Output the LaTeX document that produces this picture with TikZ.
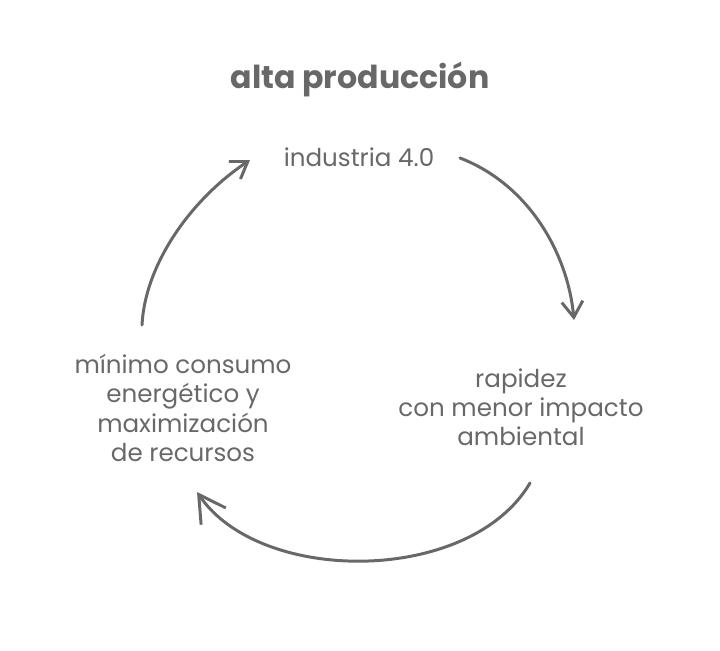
\documentclass[tikz,border=0pt]{standalone}
\usepackage{fontspec}
\setmainfont{Poppins}
\usepackage{xcolor}
\usetikzlibrary{arrows.meta}
\definecolor{pencil}{HTML}{686868}
\begin{document}
\begin{tikzpicture}[x=0.02cm, y=-0.02cm,
    txt/.style={text=pencil, align=center, font=\fontsize{14}{16.6}\selectfont},
    cyc/.style={draw=pencil, line width=1.7pt, line cap=round,
      -{Straight Barb[length=9pt, width=12pt, line width=1.7pt]}}]
    \useasboundingbox (0,0) rectangle (720,650);
    \node[text=pencil, font=\fontsize{18}{20}\selectfont\bfseries] (title) at (360,80) {alta producción};
    \node[txt] (ind) at (359,157) {industria 4.0};
    \node[txt] (rap) at (521,407) {rapidez\\con menor impacto\\ambiental};
    \node[txt] (min) at (183,408) {mínimo consumo\\energético y\\maximización\\de recursos};
	\coordinate (a1s) at (460,158);
	\coordinate (a1e) at (574,320);
	\coordinate (a2s) at (530,483);
	\coordinate (a2e) at (197,492);
	\coordinate (a3s) at (142,325);
	\coordinate (a3e) at (250,160);
    \draw[cyc] (a1s) .. controls (530,185) and (568,255) .. (a1e);
    \draw[cyc, -{Straight Barb[length=15pt, width=17pt, line width=1.7pt]}] (a2s) .. controls (470,585) and (260,585) .. (a2e);
    \draw[cyc] (a3s) .. controls (145,265) and (190,200) .. (a3e);
\end{tikzpicture}
\end{document}
